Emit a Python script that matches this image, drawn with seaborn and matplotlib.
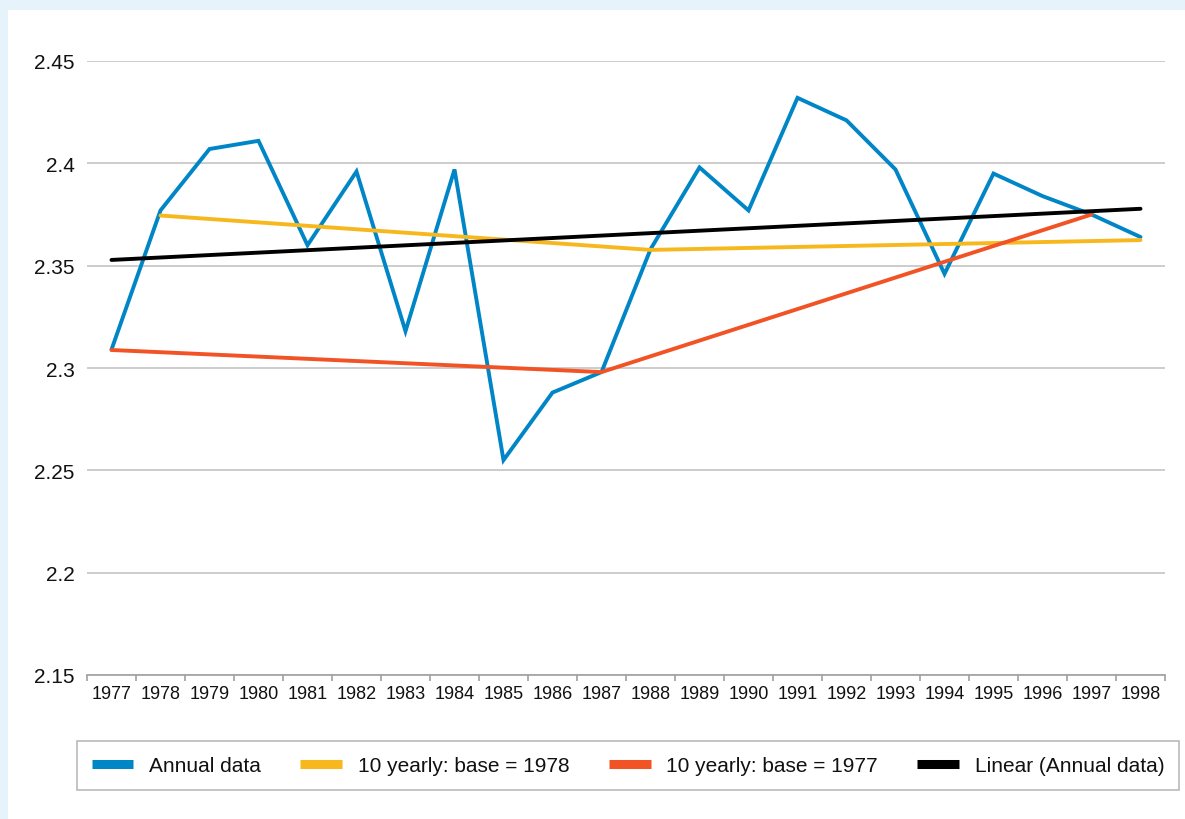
import numpy as np
import pandas as pd
import matplotlib
matplotlib.use("Agg")
import matplotlib.pyplot as plt
import seaborn as sns
from matplotlib.patches import Rectangle

# ---------------- data ----------------
years = list(range(1977, 1999))
annual_values = [2.309, 2.377, 2.407, 2.411, 2.360, 2.396, 2.318, 2.397, 2.255, 2.288, 2.298,
                 2.358, 2.398, 2.377, 2.432, 2.421, 2.397, 2.346, 2.395, 2.384, 2.375, 2.364]
base1978_years = [1978, 1988, 1998]
base1978_values = [2.3745, 2.3577, 2.3625]
base1977_years = [1977, 1987, 1997]
base1977_values = [2.3088, 2.298, 2.375]
trend_years = [1977, 1998]
trend_values = [2.3528, 2.3778]
y_ticks = [2.15, 2.2, 2.25, 2.3, 2.35, 2.4, 2.45]
y_tick_labels = ["2.15", "2.2", "2.25", "2.3", "2.35", "2.4", "2.45"]
series_names = ["Annual data", "10 yearly: base = 1978", "10 yearly: base = 1977", "Linear (Annual data)"]
series_colors = ["#0085C7", "#F7B81E", "#F15325", "#000000"]

# ---------------- style ----------------
sns.set_theme(style="white")
plt.rcParams["font.family"] = ["Liberation Sans", "DejaVu Sans"]

fig = plt.figure(figsize=(11.85, 8.2), dpi=100)
fig.patch.set_facecolor("#E6F3FB")
fig.patches.append(Rectangle((8 / 1185, 0), 1, 1 - 11 / 820, transform=fig.transFigure,
                             facecolor="white", edgecolor="none", zorder=-10))

ax = fig.add_axes([87 / 1185, 1 - 676 / 820, (1165 - 87) / 1185, (676 - 62) / 820])
ax.set_facecolor("none")

df_annual = pd.DataFrame({"year": years, "value": annual_values})
df_b78 = pd.DataFrame({"year": base1978_years, "value": base1978_values})
df_b77 = pd.DataFrame({"year": base1977_years, "value": base1977_values})
df_trend = pd.DataFrame({"year": trend_years, "value": trend_values})

lw = 2.8
sns.lineplot(data=df_annual, x="year", y="value", ax=ax, color=series_colors[0], lw=lw,
             label=series_names[0], zorder=3, solid_joinstyle="miter")
sns.lineplot(data=df_b78, x="year", y="value", ax=ax, color=series_colors[1], lw=lw,
             label=series_names[1], zorder=4)
sns.lineplot(data=df_b77, x="year", y="value", ax=ax, color=series_colors[2], lw=lw,
             label=series_names[2], zorder=5)
sns.lineplot(data=df_trend, x="year", y="value", ax=ax, color=series_colors[3], lw=lw,
             label=series_names[3], zorder=6)

ax.set_xlim(years[0] - 0.5, years[-1] + 0.5)
ax.set_ylim(y_ticks[0], y_ticks[-1])
ax.set_yticks(y_ticks)
ax.set_yticklabels(y_tick_labels)
ax.set_xticks(years)
ax.set_xticklabels([str(y) for y in years])
ax.set_xticks(np.arange(years[0] - 0.5, years[-1] + 1.0, 1.0), minor=True)
ax.set_xlabel("")
ax.set_ylabel("")

ax.grid(axis="y", color="#BEBEBE", lw=1.1, zorder=1)
ax.grid(axis="x", visible=False)
for s in ["left", "right", "top"]:
    ax.spines[s].set_visible(False)
ax.spines["bottom"].set_color("#A0A0A0")
ax.spines["bottom"].set_linewidth(1.2)
ax.spines["bottom"].set_zorder(2)

ax.tick_params(axis="y", length=0, pad=9, labelsize=15, labelcolor="#111111")
ax.tick_params(axis="x", which="major", length=0, pad=7, labelsize=13, labelcolor="#111111")
ax.tick_params(axis="x", which="minor", length=4, width=1.2, color="#A0A0A0", direction="out", bottom=True)

leg = ax.legend(loc="center", bbox_to_anchor=(628 / 1185, 1 - 766.5 / 820),
                bbox_transform=fig.transFigure, ncol=4, frameon=True, fancybox=False,
                fontsize=15, handlelength=2.0, handletextpad=0.75, columnspacing=1.9,
                borderpad=0.7, borderaxespad=0, edgecolor="#A8A8A8")
leg.get_frame().set_linewidth(1.2)
for t in leg.get_texts():
    t.set_color("#111111")
for ln in leg.get_lines():
    ln.set_linewidth(6.5)
    ln.set_solid_capstyle("butt")

fig.savefig("out.png", dpi=100)
